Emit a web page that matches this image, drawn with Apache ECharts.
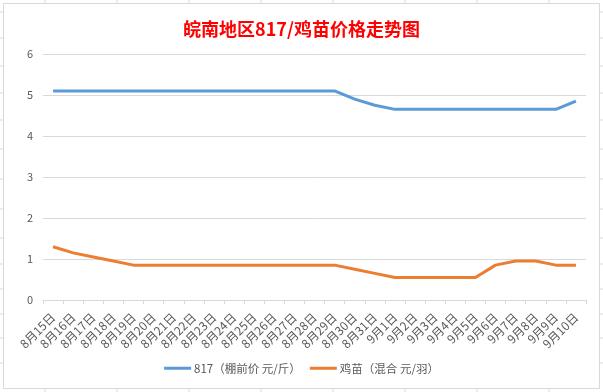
<!DOCTYPE html>
<html><head><meta charset="utf-8">
<script src="https://cdn.jsdelivr.net/npm/echarts@6/dist/echarts.min.js"></script>
<style>html,body{margin:0;padding:0;background:#fff}#c{width:603px;height:392px}</style>
</head><body><div id="c"></div>
<script>
const categories = ['8月15日','8月16日','8月17日','8月18日','8月19日','8月20日','8月21日','8月22日','8月23日','8月24日','8月25日','8月26日','8月27日','8月28日','8月29日','8月30日','8月31日','9月1日','9月2日','9月3日','9月4日','9月5日','9月6日','9月7日','9月8日','9月9日','9月10日'];
const price817 = [5.1,5.1,5.1,5.1,5.1,5.1,5.1,5.1,5.1,5.1,5.1,5.1,5.1,5.1,5.1,4.9,4.75,4.65,4.65,4.65,4.65,4.65,4.65,4.65,4.65,4.65,4.85];
const chickPrice = [1.3,1.15,1.05,0.95,0.85,0.85,0.85,0.85,0.85,0.85,0.85,0.85,0.85,0.85,0.85,0.75,0.65,0.55,0.55,0.55,0.55,0.55,0.85,0.95,0.95,0.85,0.85];
const seriesNames = ['817（棚前价 元/斤）','鸡苗（混合 元/羽）'];
const titleText = '皖南地区817/鸡苗价格走势图';

const stubs = [];
[45,117,189,261,333,405,477,549].forEach(x=>{
  stubs.push({type:'line',shape:{x1:x,y1:0,x2:x,y2:3},style:{stroke:'#d9d9d9',lineWidth:1}});
  stubs.push({type:'line',shape:{x1:x,y1:389,x2:x,y2:392},style:{stroke:'#d9d9d9',lineWidth:1}});
});
[12,38,66,93,120,149,179,209,238,264,289,314,338,363].forEach(y=>{
  stubs.push({type:'line',shape:{x1:0,y1:y,x2:3,y2:y},style:{stroke:'#d9d9d9',lineWidth:1}});
  stubs.push({type:'line',shape:{x1:600,y1:y,x2:603,y2:y},style:{stroke:'#d9d9d9',lineWidth:1}});
});
stubs.push({type:'rect',shape:{x:3.5,y:3.5,width:596,height:385},style:{fill:null,stroke:'#d9d9d9',lineWidth:1},z:-1});

const chart = echarts.init(document.getElementById('c'));
chart.setOption({
  animation:false,
  backgroundColor:'#fff',
  graphic: stubs,
  title:{text:titleText,left:'center',top:15,itemGap:0,
    textStyle:{color:'#ff0000',fontSize:18,fontWeight:'bold',fontFamily:'Noto Sans CJK SC'}},
  grid:{left:43,right:17,top:54,bottom:92},
  legend:{bottom:13,left:'center',itemWidth:27,itemHeight:3,itemGap:9,icon:'rect',
    textStyle:{color:'#595959',fontSize:11.5,fontFamily:'Noto Sans CJK SC',padding:[0,0,0,-2]},
    data:seriesNames},
  xAxis:{type:'category',data:categories,boundaryGap:true,
    axisLine:{lineStyle:{color:'#d9d9d9'}},
    axisTick:{show:true,length:4,lineStyle:{color:'#d9d9d9'}},
    axisLabel:{rotate:45,color:'#595959',fontSize:12,interval:0,margin:15,fontFamily:'Noto Sans CJK SC'}},
  yAxis:{type:'value',min:0,max:6,interval:1,
    axisLine:{show:false},axisTick:{show:false},
    axisLabel:{color:'#595959',fontSize:11,margin:10,fontFamily:'Noto Sans CJK SC'},
    splitLine:{lineStyle:{color:'#d9d9d9'}}},
  series:[
    {name:seriesNames[0],type:'line',data:price817,showSymbol:false,symbol:'none',
      lineStyle:{color:'#5b9bd5',width:3},itemStyle:{color:'#5b9bd5'}},
    {name:seriesNames[1],type:'line',data:chickPrice,showSymbol:false,symbol:'none',
      lineStyle:{color:'#ed7d31',width:3},itemStyle:{color:'#ed7d31'}}
  ]
});
</script></body></html>
